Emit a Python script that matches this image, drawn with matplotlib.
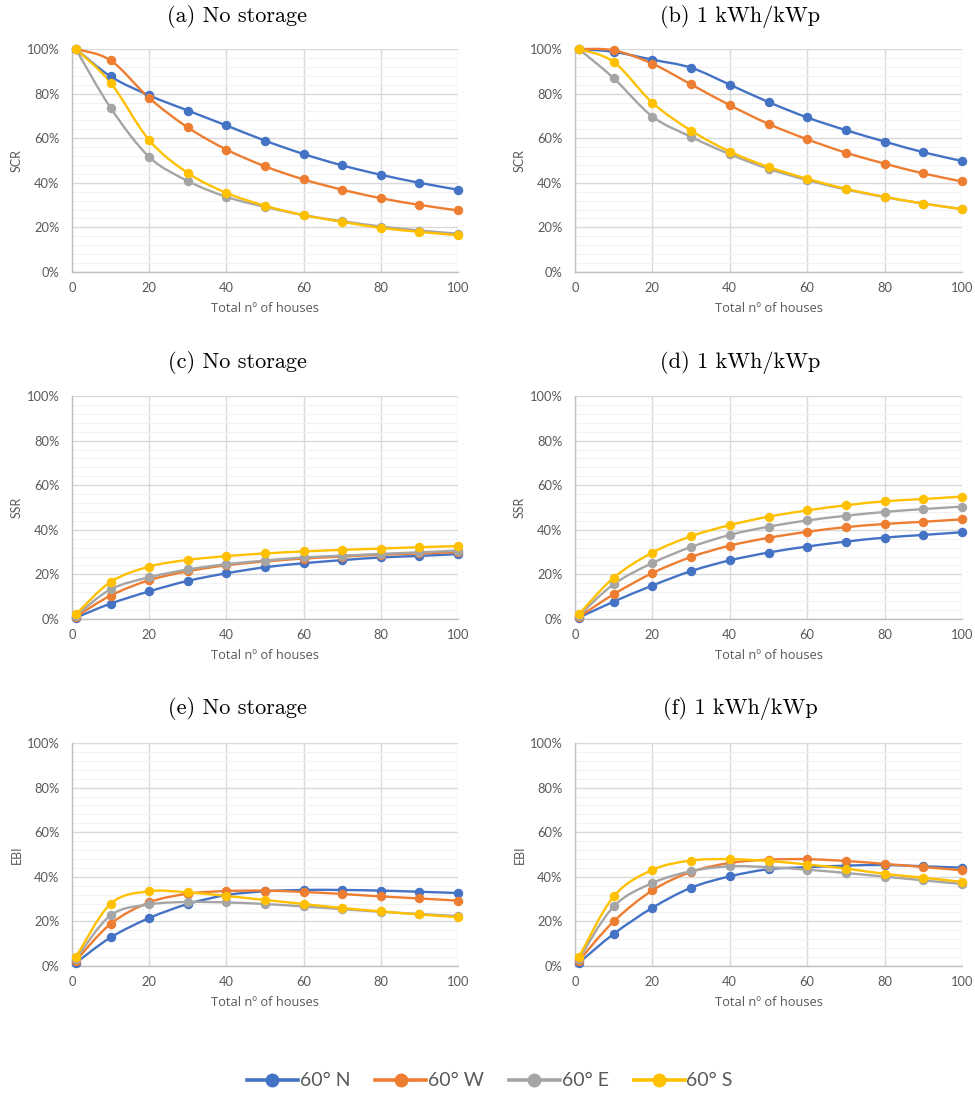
import numpy as np
import matplotlib
matplotlib.use("Agg")
import matplotlib.pyplot as plt
from matplotlib.path import Path
from matplotlib.patches import PathPatch
from matplotlib.lines import Line2D
from matplotlib.ticker import MultipleLocator, FuncFormatter

# ---------------- data ----------------
houses = [1, 10, 20, 30, 40, 50, 60, 70, 80, 90, 100]
series_names = ["60° N", "60° W", "60° E", "60° S"]
series_colors = ["#4472C4", "#ED7D31", "#A5A5A5", "#FFC000"]

# (a) SCR, no storage
scr_ns_N = [100, 87.7, 79.2, 72.4, 65.7, 58.9, 52.9, 47.8, 43.6, 40.0, 36.9]
scr_ns_W = [100, 94.9, 78.0, 64.8, 54.9, 47.4, 41.5, 36.9, 33.1, 30.1, 27.6]
scr_ns_E = [100, 73.6, 51.6, 40.8, 33.7, 29.2, 25.5, 22.8, 20.4, 18.6, 17.2]
scr_ns_S = [100, 84.9, 59.1, 44.4, 35.5, 29.7, 25.5, 22.5, 19.8, 18.0, 16.5]
# (b) SCR, 1 kWh/kWp
scr_st_N = [100, 98.7, 95.2, 91.6, 84.0, 76.2, 69.3, 63.6, 58.5, 53.7, 49.8]
scr_st_W = [100, 99.4, 93.4, 84.1, 74.8, 66.4, 59.5, 53.5, 48.6, 44.2, 40.6]
scr_st_E = [100, 86.9, 69.7, 60.6, 52.8, 46.3, 41.2, 37.0, 33.6, 30.7, 28.2]
scr_st_S = [100, 94.2, 75.9, 63.4, 54.0, 47.1, 41.8, 37.3, 33.7, 30.7, 28.2]
# (c) SSR, no storage
ssr_ns_N = [0.6, 6.9, 12.4, 17.1, 20.5, 23.2, 25.0, 26.4, 27.6, 28.3, 29.1]
ssr_ns_W = [1.0, 10.5, 17.4, 21.4, 24.1, 25.8, 27.1, 28.0, 28.8, 29.4, 30.0]
ssr_ns_E = [1.5, 13.3, 18.7, 22.2, 24.6, 26.2, 27.6, 28.4, 29.2, 29.9, 30.7]
ssr_ns_S = [2.1, 16.6, 23.5, 26.5, 28.2, 29.4, 30.3, 31.0, 31.6, 32.2, 32.7]
# (d) SSR, 1 kWh/kWp
ssr_st_N = [0.6, 7.8, 15.0, 21.5, 26.3, 29.8, 32.5, 34.7, 36.5, 37.7, 38.9]
ssr_st_W = [0.9, 11.1, 20.6, 27.8, 32.9, 36.4, 39.1, 41.2, 42.6, 43.6, 44.7]
ssr_st_E = [1.5, 15.6, 25.1, 32.3, 37.7, 41.4, 44.2, 46.3, 48.0, 49.3, 50.4]
ssr_st_S = [2.1, 18.5, 29.8, 37.1, 42.1, 45.9, 48.7, 51.0, 52.8, 53.8, 54.9]
# (e) EBI, no storage
ebi_ns_N = [1.4, 12.8, 21.5, 27.8, 31.8, 33.5, 34.1, 34.1, 33.8, 33.3, 32.7]
ebi_ns_W = [2.4, 18.9, 28.5, 32.4, 33.6, 33.8, 33.2, 32.3, 31.2, 30.3, 29.3]
ebi_ns_E = [3.2, 22.7, 27.6, 28.7, 28.5, 27.8, 26.7, 25.5, 24.3, 23.3, 22.4]
ebi_ns_S = [3.9, 27.9, 33.5, 33.0, 31.4, 29.6, 27.8, 26.0, 24.5, 23.1, 21.9]
# (f) EBI, 1 kWh/kWp
ebi_st_N = [1.4, 14.4, 26.1, 35.1, 40.2, 43.4, 44.3, 45.0, 45.3, 44.7, 44.1]
ebi_st_W = [2.4, 20.0, 33.9, 42.2, 46.2, 47.7, 47.9, 47.1, 45.8, 44.4, 42.9]
ebi_st_E = [3.2, 26.7, 37.2, 42.5, 44.7, 44.3, 43.2, 41.7, 40.1, 38.4, 36.8]
ebi_st_S = [3.9, 31.2, 43.1, 47.3, 47.9, 47.1, 45.5, 43.7, 41.3, 39.6, 37.7]

panel_titles = ["(a) No storage", "(b) 1 kWh/kWp", "(c) No storage",
                "(d) 1 kWh/kWp", "(e) No storage", "(f) 1 kWh/kWp"]
panel_ylabels = ["SCR", "SCR", "SSR", "SSR", "EBI", "EBI"]
x_label = "Total nº of houses"

panels = [
    [scr_ns_N, scr_ns_W, scr_ns_E, scr_ns_S],
    [scr_st_N, scr_st_W, scr_st_E, scr_st_S],
    [ssr_ns_N, ssr_ns_W, ssr_ns_E, ssr_ns_S],
    [ssr_st_N, ssr_st_W, ssr_st_E, ssr_st_S],
    [ebi_ns_N, ebi_ns_W, ebi_ns_E, ebi_ns_S],
    [ebi_st_N, ebi_st_W, ebi_st_E, ebi_st_S],
]

# ---------------- style ----------------
plt.rcParams['font.family'] = ['Lato', 'DejaVu Sans']
TXT = "#595959"
W, H = 975, 1097
fig = plt.figure(figsize=(W / 100, H / 100), dpi=100)


def smooth_path(xs, ys):
    """Excel-like smoothed line as cubic Bezier segments through the data."""
    P = np.column_stack([xs, ys]).astype(float)
    n = len(P)
    verts = [P[0]]
    codes = [Path.MOVETO]
    for i in range(n - 1):
        p0 = P[i - 1] if i > 0 else P[i]
        p1 = P[i]
        p2 = P[i + 1]
        p3 = P[i + 2] if i + 2 < n else P[i + 1]
        c1 = p1 + (p2 - p0) / 6.0
        c2 = p2 - (p3 - p1) / 6.0
        verts += [c1, c2, p2]
        codes += [Path.CURVE4] * 3
    return Path(verts, codes)


col_left = [72, 575]
col_width = [386, 387]
row_top = [49, 396, 743]
row_h = 223
title_y = [16, 362, 709]
title_xc = [237, 740]

for k, data in enumerate(panels):
    r, c = divmod(k, 2)
    ax = fig.add_axes([col_left[c] / W, 1 - (row_top[r] + row_h) / H,
                       col_width[c] / W, row_h / H])
    ax.set_xlim(0, 100)
    ax.set_ylim(0, 100)
    ax.xaxis.set_major_locator(MultipleLocator(20))
    ax.yaxis.set_major_locator(MultipleLocator(20))
    ax.yaxis.set_minor_locator(MultipleLocator(4))
    ax.yaxis.set_major_formatter(FuncFormatter(lambda v, p: f"{v:.0f}%"))
    ax.grid(which='major', color="#D9D9D9", linewidth=1.0)
    ax.grid(which='minor', axis='y', color="#F2F2F2", linewidth=0.8)
    ax.set_axisbelow(True)
    for s in ['top', 'right']:
        ax.spines[s].set_visible(False)
    for s in ['left', 'bottom']:
        ax.spines[s].set_color("#BFBFBF")
        ax.spines[s].set_linewidth(1.0)
    ax.tick_params(which='both', length=0, labelsize=9.3, colors=TXT)
    ax.tick_params(axis='y', pad=9)
    ax.tick_params(axis='x', pad=7)
    ax.set_xlabel(x_label, fontsize=9.3, color=TXT, labelpad=6,
                  family=['Open Sans', 'DejaVu Sans'])
    ax.set_ylabel(panel_ylabels[k], fontsize=9, color=TXT, labelpad=3)

    for ys, col in zip(data, series_colors):
        patch = PathPatch(smooth_path(houses, ys), facecolor='none',
                          edgecolor=col, linewidth=1.7, zorder=3,
                          clip_on=False)
        ax.add_patch(patch)
        ax.plot(houses, ys, linestyle='none', marker='o', markersize=5.8,
                color=col, zorder=4, clip_on=False)

    fig.text(title_xc[c] / W, 1 - title_y[r] / H, panel_titles[k],
             ha='center', va='center', fontsize=16, family='cmr10')

handles = [Line2D([0], [0], color=col, linewidth=2.6, marker='o',
                  markersize=9) for col in series_colors]
fig.legend(handles, series_names, loc='center', ncol=4,
           bbox_to_anchor=(490 / W, 1 - 1081 / H), frameon=False,
           fontsize=14, labelcolor=TXT, handlelength=2.6,
           handletextpad=0.1, columnspacing=1.3)

fig.savefig("out.png", dpi=100)
